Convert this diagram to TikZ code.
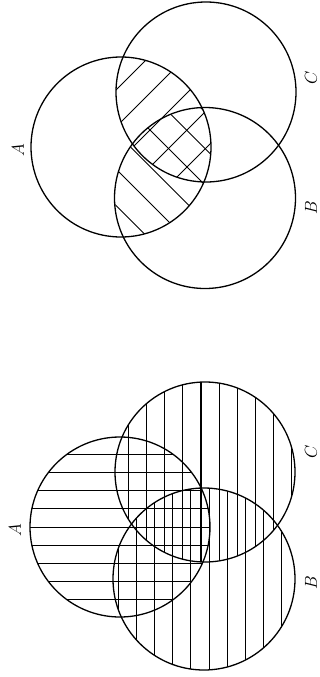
\documentclass[tikz,border=0pt]{standalone}
\begin{document}
\begin{tikzpicture}[x=1pt,y=-1pt,
  circ/.style={line width=1.3pt},
  hatch/.style={line width=1.05pt},
  lbl/.style={rotate=90,font=\fontsize{16}{16}\selectfont,inner sep=0pt}]
\useasboundingbox (0,0) rectangle (320,677);
% ---------- top diagram ----------
\coordinate (tA) at (121,147);
\coordinate (tB) at (205,198);
\coordinate (tC) at (206,92);
\begin{scope}
  \clip (tA) circle (90);
  \clip (tC) circle (90);
  \foreach \s in {132,169,...,430} \draw[hatch] (\s-350,350) -- (\s+50,-50);
\end{scope}
\begin{scope}
  \clip (tA) circle (90);
  \clip (tB) circle (90);
  \foreach \d in {-126,-89.5,...,140} \draw[hatch] (\d-50,-50) -- (\d+350,350);
\end{scope}
\draw[circ] (tA) circle (90);
\draw[circ] (tB) circle (90.5);
\draw[circ] (tC) circle (90);
\node[lbl] (labtA) at (18,150) {$A$};
\node[lbl] (labtC) at (311,78) {$C$};
\node[lbl] (labtB) at (311,208) {$B$};
% ---------- bottom diagram ----------
\coordinate (bA) at (120,527);
\coordinate (bB) at (204,579);
\coordinate (bC) at (205,472);
\begin{scope}
  \clip (bA) circle (90);
  \foreach \k in {-1,...,9} \draw[hatch] (0,454.3+18.2*\k) -- (320,454.3+18.2*\k);
\end{scope}
\begin{scope}
  \clip (bC) circle (90);
  \foreach \k in {-1,...,10} \draw[hatch] (128.6+18.1*\k,300) -- (128.6+18.1*\k,677);
\end{scope}
\begin{scope}
  \clip (bB) circle (91);
  \foreach \k in {-1,...,10} \draw[hatch] (118.3+18.15*\k,300) -- (118.3+18.15*\k,677);
\end{scope}
\draw[circ] (bA) circle (90);
\draw[circ] (bB) circle (91);
\draw[circ] (bC) circle (90);
\node[lbl] (labbA) at (15,530) {$A$};
\node[lbl] (labbC) at (311,452) {$C$};
\node[lbl] (labbB) at (311,583) {$B$};
\end{tikzpicture}
\end{document}
